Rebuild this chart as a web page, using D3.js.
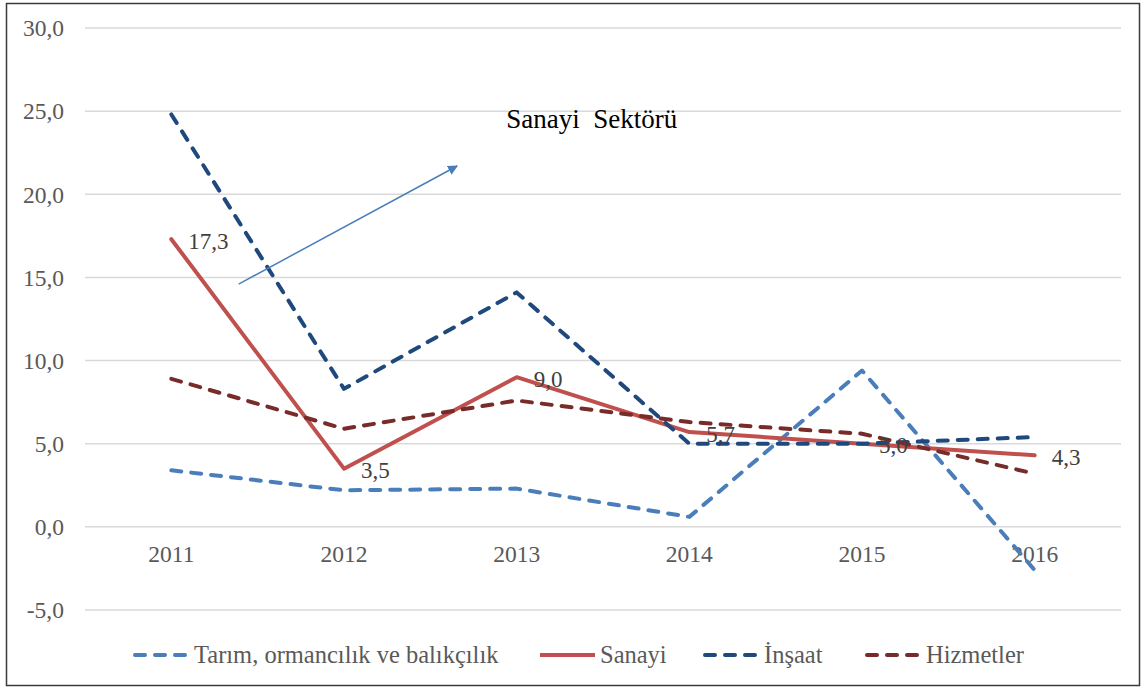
<!DOCTYPE html>
<html>
<head>
<meta charset="utf-8">
<script src="https://cdn.jsdelivr.net/npm/d3@7"></script>
<style>
  body { margin: 0; background: #fff; }
  svg text { font-family: "Liberation Serif", Tinos, "Times New Roman", "DejaVu Serif", serif !important; }
</style>
</head>
<body>
<svg width="1142" height="690"></svg>
<script>
//chart data
var years = ['2011', '2012', '2013', '2014', '2015', '2016'];
var tarim = [3.4, 2.2, 2.3, 0.6, 9.4, -2.6];
var sanayi = [17.3, 3.5, 9.0, 5.7, 5.0, 4.3];
var insaat = [24.8, 8.3, 14.1, 5.0, 5.0, 5.4];
var hizmetler = [8.9, 5.9, 7.6, 6.3, 5.6, 3.2];
var yTicks = [-5, 0, 5, 10, 15, 20, 25, 30];

//series names for the legend
var names = ['Tarım, ormancılık ve balıkçılık', 'Sanayi', 'İnşaat', 'Hizmetler'];
//annotation: arrow from (index, value) to (index, value), title text
var arrowFrom = [0.39, 14.6];
var arrowTo = [1.655, 21.7];
var noteText = 'Sanayi\u00a0\u00a0Sektörü';
var notePos = [1.94, 24.0];

var svg = d3.select('svg');

var series = [
  {name: names[0], values: tarim, color: '#4A7EBB', dash: true},
  {name: names[1], values: sanayi, color: '#C0504D', dash: false},
  {name: names[2], values: insaat, color: '#1F497D', dash: true},
  {name: names[3], values: hizmetler, color: '#772C2A', dash: true}
];

//outer frame
svg.append('rect')
   .attr('x', 6.5).attr('y', 3.5)
   .attr('width', 1133).attr('height', 682)
   .attr('fill', 'none').attr('stroke', '#3a3a3a').attr('stroke-width', 1.5);

//scales
var x = d3.scaleBand().domain(years).range([85, 1121]);
var xi = d3.scaleLinear().domain([0, 1]).range([x(years[0]) + x.bandwidth()/2, x(years[1]) + x.bandwidth()/2]);
var y = d3.scaleLinear().domain([-5, 30]).range([610, 28]);

//gridlines
svg.append('g')
   .selectAll('line')
   .data(yTicks)
   .enter()
   .append('line')
     .attr('x1', 85).attr('x2', 1121)
     .attr('y1', function(d) { return y(d); })
     .attr('y2', function(d) { return y(d); })
     .attr('stroke', '#d9d9d9').attr('stroke-width', 1.5);

//y axis labels
var fmt = function(d) { return d3.format('.1f')(d).replace('.', ',').replace('−', '-'); };
svg.append('g')
   .attr('transform', 'translate(64,0)')
   .call(d3.axisLeft(y).tickValues(yTicks).tickFormat(fmt).tickSize(0).tickPadding(0))
   .call(function(g) { g.select('.domain').remove(); })
   .attr('font-family', null)
   .selectAll('text')
     .attr('font-size', 23.5)
     .attr('fill', '#595959')
     .attr('dy', '0.33em');

//x axis labels
svg.append('g')
   .attr('transform', 'translate(0,' + y(0) + ')')
   .call(d3.axisBottom(x).tickSize(0).tickPadding(18))
   .call(function(g) { g.select('.domain').remove(); })
   .attr('font-family', null)
   .selectAll('text')
     .attr('font-size', 23.5)
     .attr('fill', '#595959');

var cx = function(i) { return x(years[i]) + x.bandwidth()/2; };
var line = d3.line()
             .x(function(d, i) { return cx(i); })
             .y(function(d) { return y(d); });

//draw lines
svg.append('g')
   .selectAll('path')
   .data(series)
   .enter()
   .append('path')
     .attr('d', function(d) { return line(d.values); })
     .attr('fill', 'none')
     .attr('stroke', function(d) { return d.color; })
     .attr('stroke-width', 4)
     .attr('stroke-linecap', 'round')
     .attr('stroke-linejoin', 'round')
     .attr('stroke-dasharray', function(d) { return d.dash ? '10,10' : null; });

//data labels for Sanayi
svg.append('g')
   .selectAll('text')
   .data(sanayi)
   .enter()
   .append('text')
     .attr('x', function(d, i) { return cx(i) + 17; })
     .attr('y', function(d) { return y(d) + 2; })
     .attr('dy', '0.33em')
     .attr('font-size', 23)
     .attr('fill', '#404040')
     .text(function(d) { return fmt(d); });

//arrow annotation
svg.append('defs').append('marker')
   .attr('id', 'arrowhead')
   .attr('viewBox', '0 0 10 10')
   .attr('refX', 9).attr('refY', 5)
   .attr('markerWidth', 10).attr('markerHeight', 10)
   .attr('markerUnits', 'userSpaceOnUse')
   .attr('orient', 'auto')
   .append('path')
     .attr('d', 'M0,0 L10,5 L0,10 Z')
     .attr('fill', '#4A7EBB');

svg.append('line')
   .attr('x1', xi(arrowFrom[0])).attr('y1', y(arrowFrom[1]))
   .attr('x2', xi(arrowTo[0])).attr('y2', y(arrowTo[1]))
   .attr('stroke', '#4A7EBB').attr('stroke-width', 1.5)
   .attr('marker-end', 'url(#arrowhead)');

svg.append('text')
   .attr('x', xi(notePos[0]))
   .attr('y', y(notePos[1]))
   .attr('font-size', 27)
   .attr('fill', '#000')
   .text(noteText);

//legend
var legendX = [133, 540, 703, 865];
var legend = svg.append('g')
   .selectAll('g')
   .data(series)
   .enter()
   .append('g')
     .attr('transform', function(d, i) { return 'translate(' + legendX[i] + ',655)'; });

legend.append('line')
   .attr('x1', function(d) { return d.dash ? 2 : 0; })
   .attr('x2', function(d) { return d.dash ? 52 : 55; })
   .attr('y1', 0).attr('y2', 0)
   .attr('stroke', function(d) { return d.color; })
   .attr('stroke-width', 4)
   .attr('stroke-linecap', function(d) { return d.dash ? 'round' : 'butt'; })
   .attr('stroke-dasharray', function(d) { return d.dash ? '10,10' : null; });

legend.append('text')
   .attr('x', function(d) { return d.dash ? 61 : 60; })
   .attr('y', 0)
   .attr('dy', '0.33em')
   .attr('font-size', 24.5)
   .attr('fill', '#595959')
   .text(function(d) { return d.name; });
</script>
</body>
</html>
